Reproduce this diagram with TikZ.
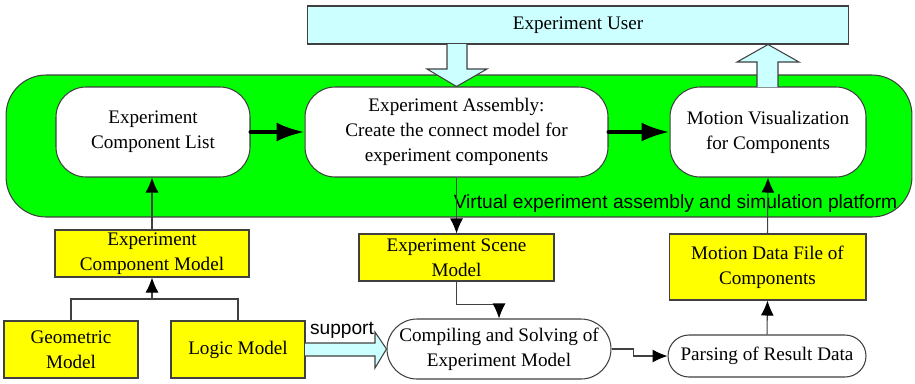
\documentclass[tikz,border=0pt]{standalone}
\usepackage{fontspec}
\setmainfont{Liberation Serif}
\setsansfont{Liberation Sans}
\usetikzlibrary{arrows.meta}
\definecolor{skyfill}{RGB}{204,255,255}
\definecolor{platgreen}{RGB}{0,255,0}
\definecolor{modelyellow}{RGB}{255,255,0}
\definecolor{edge}{RGB}{64,64,64}

\begin{document}
\begin{tikzpicture}[x=0.02cm,y=-0.02cm,
    every node/.style={font=\fontsize{10.9}{14.2}\selectfont},
    box/.style={draw=edge,line width=0.6pt,align=center,inner sep=0pt},
    roundbox/.style={box,fill=white,rounded corners=0.6cm,minimum height=1.8cm},
    model/.style={box,fill=modelyellow},
    label/.style={anchor=base,font=\sffamily\fontsize{10.9}{13}\selectfont},
    link/.style={draw=edge,line width=0.6pt},
    arr/.style={link,-{Latex[length=0.3cm,width=0.26cm,color=black]}},
    bold arr/.style={line width=0.08cm,line cap=round,-{Latex[length=0.56cm,width=0.38cm]}},
    fat/.style={draw=edge,line width=0.6pt,fill=skyfill}]
  \useasboundingbox (0,0) rectangle (915,383);

  \node[box,fill=skyfill,minimum width=10.84cm,minimum height=0.76cm] (user) at (578,25) {Experiment User};
  \node[box,fill=platgreen,rounded corners=0.8cm,minimum width=18.12cm,minimum height=2.84cm] (platform) at (459,146) {};
  \node[label] (platlabel) at (675.5,208) {Virtual experiment assembly and simulation platform};

  \node[roundbox,minimum width=3.88cm] (list) at (153,132) {Experiment\\Component List};
  \node[roundbox,minimum width=6.06cm] (assembly) at (456.5,132) {Experiment Assembly:\\Create the connect model for\\experiment components};
  \node[roundbox,minimum width=3.92cm] (motionvis) at (768,132) {Motion Visualization\\for Components};

  \draw[fat] (447,44) -- (447,69) -- (427,69) -- (assembly.north) -- (487,69) -- (467,69) -- (467,44);
  \draw[fat] (757,87) -- (757,62) -- (737,62) -- (user.south -| motionvis.north) -- (799,62) -- (778,62) -- (778,87);

  \draw[bold arr] (list) -- (assembly);
  \draw[bold arr] (assembly) -- (motionvis);

  \node[model,minimum width=3.88cm,minimum height=0.94cm] (compmodel) at (152,253.5) {Experiment\\Component Model};
  \node[model,minimum width=3.9cm,minimum height=0.94cm] (scene) at (456.5,257.5) {Experiment Scene\\Model};
  \node[model,minimum width=3.94cm,minimum height=1.32cm] (datafile) at (767.5,267) {Motion Data File of\\Components};
  \node[model,minimum width=2.68cm,minimum height=1.14cm] (geometric) at (71,349.5) {Geometric\\Model};
  \node[model,minimum width=2.68cm,minimum height=1.14cm] (logic) at (238,349.5) {Logic Model};
  \node[box,fill=white,rounded corners=0.6cm,minimum width=4.48cm,minimum height=1.2cm] (compiling) at (499,349) {Compiling and Solving of\\Experiment Model};
  \node[box,fill=white,rounded corners=0.42cm,minimum width=3.96cm,minimum height=0.84cm] (parsing) at (767,356) {Parsing of Result Data};

  \draw[fat] (305,343) -- (375,343) -- (375,332) -- (compiling.west) -- (375,368) -- (375,356) -- (305,356);
  \node[label] (support) at (342,334) {support};

  \coordinate (join) at (152,299);
  \draw[link] (geometric.north) |- (join) -| (logic.north);
  \draw[arr] (join) -- (compmodel.south);
  \draw[arr] (compmodel.north) -- (compmodel.north |- list.south);
  \draw[arr] (assembly.south) -- (assembly.south |- scene.north);
  \draw[arr] (scene.south) -- ++(0,23) -| (compiling.north);
  \draw[arr] (compiling.east) -- ++(22,0) |- (parsing.west);
  \draw[arr] (parsing.north) -- (datafile.south);
  \draw[arr] (datafile.north) -- (motionvis.south);
\end{tikzpicture}
\end{document}
